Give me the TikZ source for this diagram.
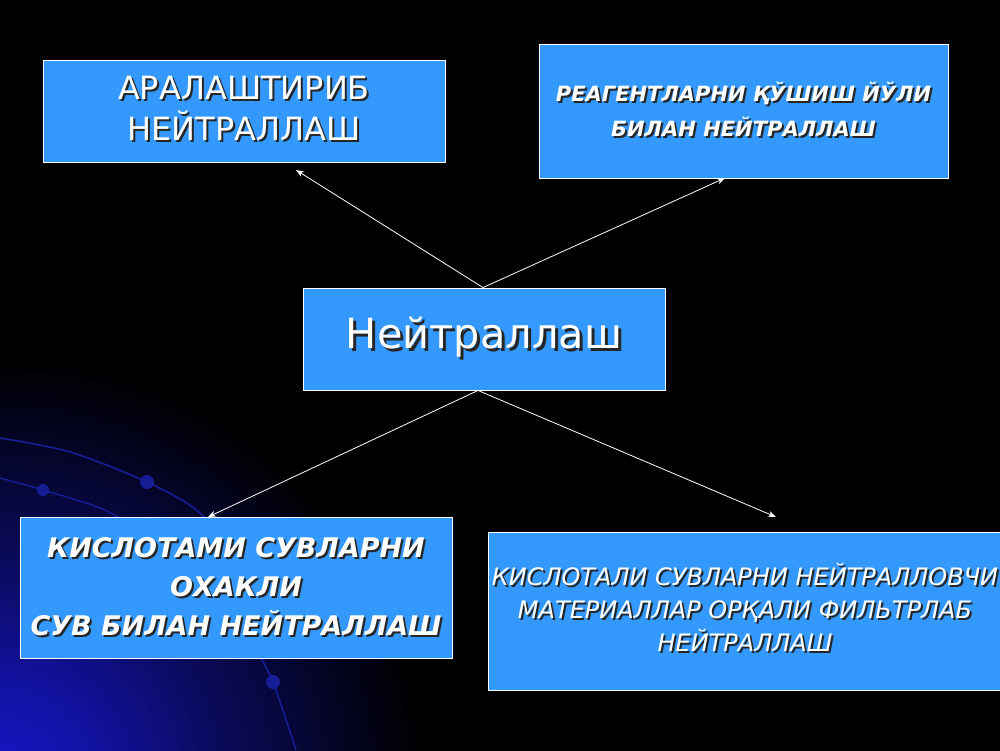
\documentclass[tikz,border=0pt]{standalone}
\usepackage{fontspec}
\setmainfont{DejaVu Sans}
\usetikzlibrary{arrows.meta}
\definecolor{boxblue}{RGB}{51,153,255}
\definecolor{glowc}{RGB}{22,22,200}
\definecolor{arcc}{RGB}{22,30,150}
\newcommand\shtxt[2][2pt]{\leavevmode\rlap{\hspace{#1}\raisebox{-#1}{\color{black!85}#2}}#2}
\pgfdeclareradialshading{glow}{\pgfpoint{0bp}{0bp}}{color(0bp)=(glowc); color(2bp)=(glowc!80!black); color(4.5bp)=(glowc!45!black); color(8.5bp)=(black); color(50bp)=(black)}
\tikzset{
  box/.style={draw=white, line width=0.9pt, fill=boxblue, inner sep=0pt},
  txt/.style={text=white, inner sep=0pt, align=center},
  conn/.style={draw=white, line width=0.8pt, -{Stealth[length=8pt,width=6pt]}}
}
\begin{document}
\begin{tikzpicture}[x=1pt,y=-1pt]
\useasboundingbox (0,0) rectangle (1000,750);
\fill[black] (0,0) rectangle (1000,750);
\begin{scope}
\clip (0,0) rectangle (1000,750);
\shade[shading=glow] (-1240,-460) rectangle (1240,2020);
\draw[arcc, line width=1.6pt] plot[smooth] coordinates {(0,438) (70,452) (147,482) (200,513) (232,560) (253,640) (273,682) (296,750)};
\draw[arcc, line width=1.4pt] plot[smooth] coordinates {(0,478) (43,490) (100,508) (140,530)};
\fill[arcc] (147,482) circle (7);
\fill[arcc] (43,490) circle (6);
\fill[arcc] (273,682) circle (7);
\end{scope}

\node[box, minimum width=402pt, minimum height=102pt] (mix) at (244,111) {};
\node[box, minimum width=409pt, minimum height=134pt] (reag) at (743.5,111) {};
\node[box, minimum width=362pt, minimum height=102pt] (neut) at (484,339) {};
\node[box, minimum width=432pt, minimum height=141pt] (acid) at (236,587.5) {};
\node[box, minimum width=514pt, minimum height=158pt] (filt) at (745,611) {};

\node[txt] (mixt) at ([yshift=-2pt]mix.center) {\fontsize{32}{40}\selectfont\shtxt{\begin{tabular}{@{}c@{}}АРАЛАШТИРИБ\\НЕЙТРАЛЛАШ\end{tabular}}};
\node[txt] (reagt) at ([yshift=-2pt]reag.center) {\fontsize{21}{35}\selectfont\bfseries\itshape\shtxt{\begin{tabular}{@{}c@{}}РЕАГЕНТЛАРНИ ҚЎШИШ ЙЎЛИ\\БИЛАН НЕЙТРАЛЛАШ\end{tabular}}};
\node[txt] (neutt) at (neut.center) {\fontsize{41.5}{48}\selectfont\shtxt[3pt]{Нейтраллаш}};
\node[txt] (acidt) at ([yshift=-2pt]acid.center) {\fontsize{27}{39}\selectfont\bfseries\itshape\shtxt{\begin{tabular}{@{}c@{}}КИСЛОТАМИ СУВЛАРНИ\\ОХАКЛИ\\СУВ БИЛАН НЕЙТРАЛЛАШ\end{tabular}}};
\node[txt] (filtt) at ([yshift=-2pt]filt.center) {\fontsize{24}{33}\selectfont\itshape\shtxt{\begin{tabular}{@{}c@{}}КИСЛОТАЛИ СУВЛАРНИ НЕЙТРАЛЛОВЧИ\\МАТЕРИАЛЛАР ОРҚАЛИ ФИЛЬТРЛАБ\\НЕЙТРАЛЛАШ\end{tabular}}};

\coordinate (t1) at (296,170);
\coordinate (t2) at (725,178);
\coordinate (t3) at (208,517);
\coordinate (t4) at (776,517);
\coordinate (s1) at ([xshift=-1pt]neut.north);
\coordinate (s2) at ([xshift=-6pt]neut.south);
\draw[conn] (s1) -- (t1);
\draw[conn] (s1) -- (t2);
\draw[conn] (s2) -- (t3);
\draw[conn] (s2) -- (t4);
\end{tikzpicture}
\end{document}
